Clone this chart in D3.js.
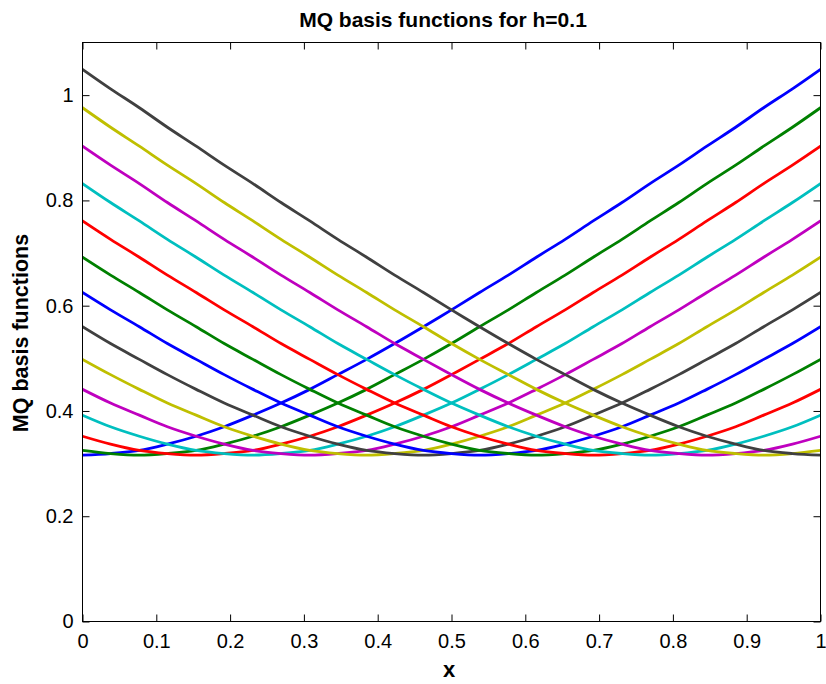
<!DOCTYPE html>
<html>
<head>
<meta charset="utf-8">
<script src="https://cdn.jsdelivr.net/npm/d3@7"></script>
<style>
  html, body { margin: 0; padding: 0; background: #fff; }
  svg { display: block; }
  text { font-family: "Liberation Sans", Arial, Helvetica, sans-serif; fill: #000; }
</style>
</head>
<body>
<svg id="chart" width="826" height="684"></svg>
<script>
// Sample positions along x (26 equal steps on [0, 1])
const xs = [0, 0.038, 0.077, 0.115, 0.154, 0.192, 0.231, 0.269, 0.308, 0.346, 0.385, 0.423, 0.462, 0.5,
            0.538, 0.577, 0.615, 0.654, 0.692, 0.731, 0.769, 0.808, 0.846, 0.885, 0.923, 0.962, 1];

// One multiquadric basis function per centre (14 centres across [0, 1])
const phi0  = [0.316,0.319,0.325,0.337,0.352,0.370,0.392,0.415,0.441,0.469,0.498,0.528,0.560,0.592,0.625,0.658,0.692,0.726,0.761,0.796,0.832,0.867,0.903,0.939,0.976,1.012,1.049];
const phi1  = [0.325,0.319,0.316,0.319,0.325,0.337,0.352,0.370,0.392,0.415,0.441,0.469,0.498,0.528,0.560,0.592,0.625,0.658,0.692,0.726,0.761,0.796,0.832,0.867,0.903,0.939,0.976];
const phi2  = [0.352,0.337,0.325,0.319,0.316,0.319,0.325,0.337,0.352,0.370,0.392,0.415,0.441,0.469,0.498,0.528,0.560,0.592,0.625,0.658,0.692,0.726,0.761,0.796,0.832,0.867,0.903];
const phi3  = [0.392,0.370,0.352,0.337,0.325,0.319,0.316,0.319,0.325,0.337,0.352,0.370,0.392,0.415,0.441,0.469,0.498,0.528,0.560,0.592,0.625,0.658,0.692,0.726,0.761,0.796,0.832];
const phi4  = [0.441,0.415,0.392,0.370,0.352,0.337,0.325,0.319,0.316,0.319,0.325,0.337,0.352,0.370,0.392,0.415,0.441,0.469,0.498,0.528,0.560,0.592,0.625,0.658,0.692,0.726,0.761];
const phi5  = [0.498,0.469,0.441,0.415,0.392,0.370,0.352,0.337,0.325,0.319,0.316,0.319,0.325,0.337,0.352,0.370,0.392,0.415,0.441,0.469,0.498,0.528,0.560,0.592,0.625,0.658,0.692];
const phi6  = [0.560,0.528,0.498,0.469,0.441,0.415,0.392,0.370,0.352,0.337,0.325,0.319,0.316,0.319,0.325,0.337,0.352,0.370,0.392,0.415,0.441,0.469,0.498,0.528,0.560,0.592,0.625];
const phi7  = [0.625,0.592,0.560,0.528,0.498,0.469,0.441,0.415,0.392,0.370,0.352,0.337,0.325,0.319,0.316,0.319,0.325,0.337,0.352,0.370,0.392,0.415,0.441,0.469,0.498,0.528,0.560];
const phi8  = [0.692,0.658,0.625,0.592,0.560,0.528,0.498,0.469,0.441,0.415,0.392,0.370,0.352,0.337,0.325,0.319,0.316,0.319,0.325,0.337,0.352,0.370,0.392,0.415,0.441,0.469,0.498];
const phi9  = [0.761,0.726,0.692,0.658,0.625,0.592,0.560,0.528,0.498,0.469,0.441,0.415,0.392,0.370,0.352,0.337,0.325,0.319,0.316,0.319,0.325,0.337,0.352,0.370,0.392,0.415,0.441];
const phi10 = [0.832,0.796,0.761,0.726,0.692,0.658,0.625,0.592,0.560,0.528,0.498,0.469,0.441,0.415,0.392,0.370,0.352,0.337,0.325,0.319,0.316,0.319,0.325,0.337,0.352,0.370,0.392];
const phi11 = [0.903,0.867,0.832,0.796,0.761,0.726,0.692,0.658,0.625,0.592,0.560,0.528,0.498,0.469,0.441,0.415,0.392,0.370,0.352,0.337,0.325,0.319,0.316,0.319,0.325,0.337,0.352];
const phi12 = [0.976,0.939,0.903,0.867,0.832,0.796,0.761,0.726,0.692,0.658,0.625,0.592,0.560,0.528,0.498,0.469,0.441,0.415,0.392,0.370,0.352,0.337,0.325,0.319,0.316,0.319,0.325];
const phi13 = [1.049,1.012,0.976,0.939,0.903,0.867,0.832,0.796,0.761,0.726,0.692,0.658,0.625,0.592,0.560,0.528,0.498,0.469,0.441,0.415,0.392,0.370,0.352,0.337,0.325,0.319,0.316];

const series = [phi0, phi1, phi2, phi3, phi4, phi5, phi6, phi7, phi8, phi9, phi10, phi11, phi12, phi13];

// Default line colour cycle (b, g, r, c, m, y, k)
const colorCycle = ["#0000ff", "#008000", "#ff0000", "#00bfbf", "#bf00bf", "#bfbf00", "#404040"];

const xTicks = [0, 0.1, 0.2, 0.3, 0.4, 0.5, 0.6, 0.7, 0.8, 0.9, 1];
const xTickLabels = ["0", "0.1", "0.2", "0.3", "0.4", "0.5", "0.6", "0.7", "0.8", "0.9", "1"];
const yTicks = [0, 0.2, 0.4, 0.6, 0.8, 1];
const yTickLabels = ["0", "0.2", "0.4", "0.6", "0.8", "1"];

const titleText = "MQ basis functions for h=0.1";
const xLabelText = "x";
const yLabelText = "MQ basis functions";

const svg = d3.select("#chart");
const plotLeft = 82.5, plotRight = 820.5, plotTop = 42.5, plotBottom = 621.5;

const x = d3.scaleLinear().domain([0, 1]).range([plotLeft, plotRight]);
const y = d3.scaleLinear().domain([0, 1.1]).range([plotBottom, plotTop]);

svg.append("defs").append("clipPath").attr("id", "plotClip")
  .append("rect").attr("x", plotLeft).attr("y", plotTop)
  .attr("width", plotRight - plotLeft).attr("height", plotBottom - plotTop);

// Curves
const line = d3.line()
  .x((d, i) => x(xs[i]))
  .y(d => y(d))
  .curve(d3.curveCatmullRom.alpha(0.5));

svg.append("g").attr("clip-path", "url(#plotClip)")
  .selectAll("path")
  .data(series)
  .join("path")
  .attr("d", d => line(d))
  .attr("fill", "none")
  .attr("stroke", (d, i) => colorCycle[i % colorCycle.length])
  .attr("stroke-width", 2.8)
  .attr("stroke-linejoin", "round")
  .attr("stroke-linecap", "round");

// Axes with inward ticks on all four sides
const tickLen = 7;
const fmtX = (d) => xTickLabels[xTicks.indexOf(d)];
const fmtY = (d) => yTickLabels[yTicks.indexOf(d)];

const gBottom = svg.append("g").attr("transform", `translate(0,${plotBottom})`)
  .call(d3.axisBottom(x).tickValues(xTicks).tickFormat(fmtX).tickSizeInner(-tickLen).tickSizeOuter(0).tickPadding(12));
const gLeft = svg.append("g").attr("transform", `translate(${plotLeft},0)`)
  .call(d3.axisLeft(y).tickValues(yTicks).tickFormat(fmtY).tickSizeInner(-tickLen).tickSizeOuter(0).tickPadding(9));
const gTop = svg.append("g").attr("transform", `translate(0,${plotTop})`)
  .call(d3.axisTop(x).tickValues(xTicks).tickFormat("").tickSizeInner(-tickLen).tickSizeOuter(0));
const gRight = svg.append("g").attr("transform", `translate(${plotRight},0)`)
  .call(d3.axisRight(y).tickValues(yTicks).tickFormat("").tickSizeInner(-tickLen).tickSizeOuter(0));

[gBottom, gLeft, gTop, gRight].forEach(g => {
  g.select(".domain").remove();
  g.selectAll(".tick line").attr("stroke", "#000").attr("stroke-width", 1);
  g.selectAll(".tick text")
    .attr("font-family", "'Liberation Sans', Arial, Helvetica, sans-serif")
    .attr("font-size", 20).attr("fill", "#000");
});

// Axis box
svg.append("rect")
  .attr("x", plotLeft).attr("y", plotTop)
  .attr("width", plotRight - plotLeft).attr("height", plotBottom - plotTop)
  .attr("fill", "none").attr("stroke", "#000").attr("stroke-width", 1);

// Title and axis labels
svg.append("text")
  .attr("x", 443).attr("y", 27)
  .attr("text-anchor", "middle")
  .attr("font-size", 21).attr("font-weight", "bold")
  .text(titleText);

svg.append("text")
  .attr("x", 449).attr("y", 677)
  .attr("text-anchor", "middle")
  .attr("font-size", 22).attr("font-weight", "bold")
  .text(xLabelText);

svg.append("text")
  .attr("transform", `translate(28,333) rotate(-90)`)
  .attr("text-anchor", "middle")
  .attr("font-size", 21.5).attr("font-weight", "bold")
  .text(yLabelText);
</script>
</body>
</html>
